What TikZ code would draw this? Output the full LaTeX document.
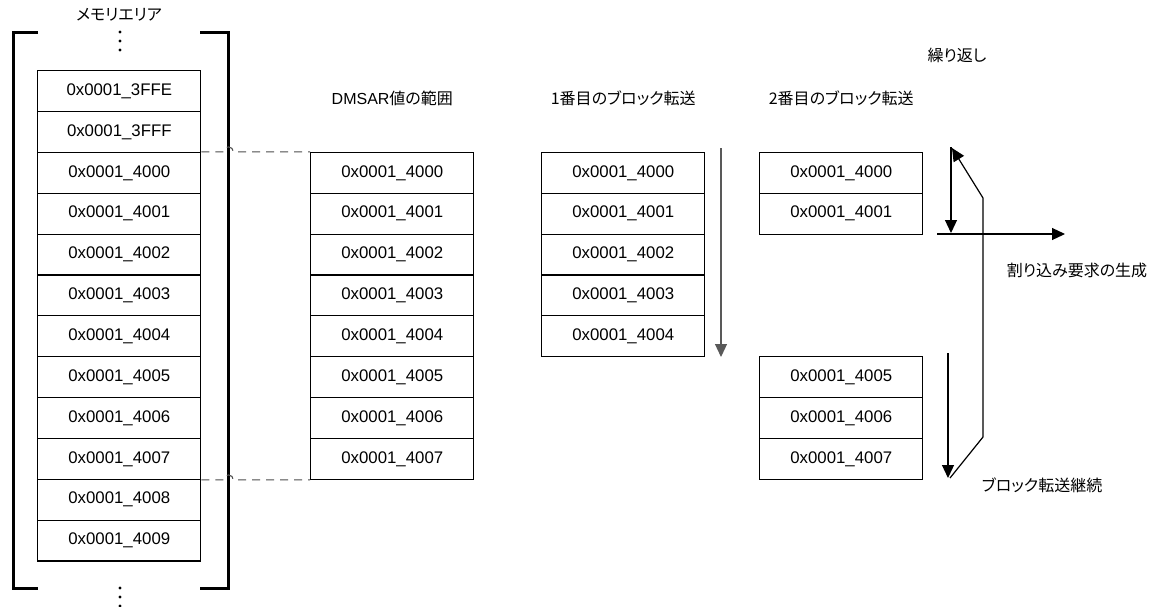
\documentclass[tikz,border=0pt]{standalone}
\usepackage{fontspec}
\setmainfont{Liberation Sans}
\newfontfamily\cjk[RawFeature=+palt]{Noto Sans CJK JP}
\usetikzlibrary{arrows.meta}

\tikzset{
  cell/.style={draw, line width=1.2pt, minimum width=163pt, minimum height=40.86pt, inner sep=0pt, font=\fontsize{16.8}{19}\selectfont},
  lbl/.style={font=\cjk\fontsize{16}{19}\selectfont},
  brk/.style={line width=3pt},
  link/.style={dash pattern=on 8pt off 6pt, black!70, line width=1.1pt},
  flow/.style={line width=1.2pt, -{Triangle[length=13pt,width=12pt]}},
}

\begin{document}
\begin{tikzpicture}[x=1pt, y=-1pt]
\useasboundingbox (0,0) rectangle (1162,606);

% Memory area
\node[lbl] (title) at (119,15) {メモリエリア};
\draw[brk] (38,32) -- (13,32) -- (13,588) -- (38,588);
\draw[brk] (200,32) -- (228,32) -- (228,588) -- (200,588);
\fill (120,32) circle (1.7pt);
\fill (120,41) circle (1.7pt);
\fill (120,50) circle (1.7pt);
\fill (120,588) circle (1.7pt);
\fill (120,597) circle (1.7pt);
\fill (120,606) circle (1.7pt);

\node[cell] (m3ffe) at (119.3,91.1) {0x0001\_3FFE};
\node[cell] (m3fff) at (119.3,132.0) {0x0001\_3FFF};
\node[cell] (m4000) at (119.3,172.9) {0x0001\_4000};
\node[cell] (m4001) at (119.3,213.7) {0x0001\_4001};
\node[cell] (m4002) at (119.3,254.6) {0x0001\_4002};
\node[cell] (m4003) at (119.3,295.4) {0x0001\_4003};
\node[cell] (m4004) at (119.3,336.3) {0x0001\_4004};
\node[cell] (m4005) at (119.3,377.1) {0x0001\_4005};
\node[cell] (m4006) at (119.3,418.0) {0x0001\_4006};
\node[cell] (m4007) at (119.3,458.9) {0x0001\_4007};
\node[cell] (m4008) at (119.3,499.7) {0x0001\_4008};
\node[cell] (m4009) at (119.3,540.6) {0x0001\_4009};

% DMSAR range
\node[lbl] (dhead) at (392.3,98) {{\rmfamily DMSAR}値の範囲};
\node[cell] (d4000) at (392.3,172.9) {0x0001\_4000};
\node[cell] (d4001) at (392.3,213.7) {0x0001\_4001};
\node[cell] (d4002) at (392.3,254.6) {0x0001\_4002};
\node[cell] (d4003) at (392.3,295.4) {0x0001\_4003};
\node[cell] (d4004) at (392.3,336.3) {0x0001\_4004};
\node[cell] (d4005) at (392.3,377.1) {0x0001\_4005};
\node[cell] (d4006) at (392.3,418.0) {0x0001\_4006};
\node[cell] (d4007) at (392.3,458.9) {0x0001\_4007};

% Range links (hop over bracket)
\draw[link] (m4000.north east) -- ++(22,0) arc[start angle=180, end angle=0, radius=5pt] -- (d4000.north west);
\draw[link] (m4007.south east) -- ++(22,0) arc[start angle=180, end angle=0, radius=5pt] -- (d4007.south west);

% 1st block transfer
\node[lbl] (ahead) at (623.3,98) {1番目のブロック転送};
\node[cell] (a4000) at (623.3,172.9) {0x0001\_4000};
\node[cell] (a4001) at (623.3,213.7) {0x0001\_4001};
\node[cell] (a4002) at (623.3,254.6) {0x0001\_4002};
\node[cell] (a4003) at (623.3,295.4) {0x0001\_4003};
\node[cell] (a4004) at (623.3,336.3) {0x0001\_4004};
\coordinate (a_top) at (721,148);
\coordinate (a_bot) at (721,357);
\draw[flow, black!65] (a_top) -- (a_bot);

% 2nd block transfer
\node[lbl] (bhead) at (841.3,98) {2番目のブロック転送};
\node[cell] (b4000) at (841.3,172.9) {0x0001\_4000};
\node[cell] (b4001) at (841.3,213.7) {0x0001\_4001};
\node[cell] (b4005) at (841.3,377.1) {0x0001\_4005};
\node[cell] (b4006) at (841.3,418.0) {0x0001\_4006};
\node[cell] (b4007) at (841.3,458.9) {0x0001\_4007};

% Interrupt and repeat
\node[lbl] (rep) at (957,55) {繰り返し};
\node[lbl] (irq) at (1077,270) {割り込み要求の生成};
\node[lbl] (cont) at (1042,485) {ブロック転送継続};

\coordinate (b_top) at (951,147);
\coordinate (b_mid) at (951,233);
\draw[flow] (b_top) -- (b_mid);
\coordinate (irq_l) at (937,234);
\coordinate (irq_r) at (1065,234);
\draw[flow] (irq_l) -- (irq_r);
\coordinate (c_top) at (948,353);
\coordinate (c_bot) at (948,478);
\draw[flow] (c_top) -- (c_bot);
\coordinate (loop_s) at (950,478);
\coordinate (loop_e) at (952,148);
\draw[flow] (loop_s) -- (983,437) -- (983,198) -- (loop_e);

\end{tikzpicture}
\end{document}
